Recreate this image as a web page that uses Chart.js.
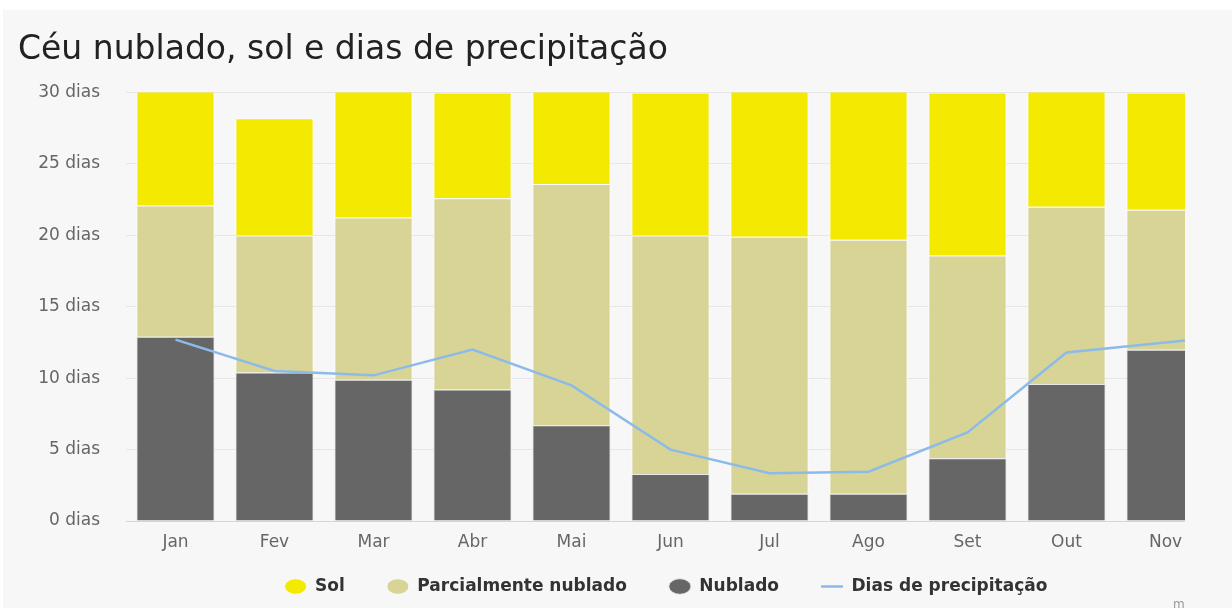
<!DOCTYPE html>
<html>
<head>
<meta charset="utf-8">
<script src="https://cdn.jsdelivr.net/npm/chart.js@4"></script>
<style>
	body { margin: 0; background: #ffffff; }
	#frame { position: absolute; left: 3px; top: 10px; width: 1229px; height: 598px; background: #f7f7f7; overflow: hidden; }
	#clip { position: absolute; left: 0; top: 0; width: 1182px; height: 598px; overflow: hidden; }
	#box { position: absolute; left: 0; top: 0; width: 1326px; height: 598px; }
	#credit { position: absolute; left: 1170px; top: 587px; font: 12px 'DejaVu Sans', sans-serif; color: #999; }
</style>
</head>
<body>
<div id="frame">
	<div id="clip">
		<div id="box"><canvas id="climateChart"></canvas></div>
		<span id="credit">meteoblue</span>
	</div>
</div>
<script>
var months = ["Jan", "Fev", "Mar", "Abr", "Mai", "Jun", "Jul", "Ago", "Set", "Out", "Nov", "Dez"];
var sunDays = [8.9, 8.2, 9.75, 7.4, 7.4, 10.0, 11.1, 11.3, 11.4, 9.0, 8.2, 8.7];
var partlyDays = [9.2, 9.6, 11.35, 13.4, 16.9, 16.7, 18.0, 17.8, 14.2, 12.4, 9.8, 9.8];
var overcastDays = [12.9, 10.4, 9.9, 9.2, 6.7, 3.3, 1.9, 1.9, 4.4, 9.6, 12.0, 12.5];
var precipDays = [12.7, 10.5, 10.2, 12.0, 9.5, 5.0, 3.35, 3.45, 6.2, 11.8, 12.5, 13.2];
var yTicks = [0, 5, 10, 15, 20, 25, 30];

var tickFont = { family: "'DejaVu Sans', sans-serif", size: 17 };
var barBorder = 'rgba(255,255,255,0.75)';

// legend block is pulled up a bit so the wide item padding doesn't push it down
var legendNudge = {
	id: 'legendNudge',
	afterLayout: function (chart) {
		var lg = chart.legend;
		if (!lg) return;
		lg.top = 526;
		lg.bottom = chart.height;
		lg.height = lg.bottom - lg.top;
	}
};

var ctx = document.getElementById("climateChart").getContext('2d');

var chart = new Chart(ctx, {
	type: 'bar',
	plugins: [legendNudge],
	data: {
		labels: months,
		datasets: [{
			label: "Sol",
			data: sunDays,
			backgroundColor: '#f4e900',
			borderColor: barBorder,
			borderWidth: 1,
			order: 3
		}, {
			label: "Parcialmente nublado",
			data: partlyDays,
			backgroundColor: '#d7d496',
			borderColor: barBorder,
			borderWidth: 1,
			order: 2
		}, {
			label: "Nublado",
			data: overcastDays,
			backgroundColor: '#666666',
			borderColor: 'rgba(230,230,230,0.9)',
			borderWidth: 1,
			order: 1
		}, {
			type: 'line',
			label: "Dias de precipitação",
			data: precipDays,
			borderColor: '#8dbbe9',
			backgroundColor: '#8dbbe9',
			borderWidth: 2.5,
			pointRadius: 0,
			pointStyle: 'line',
			tension: 0,
			order: 0
		}]
	},
	options: {
		responsive: true,
		maintainAspectRatio: false,
		animation: false,
		layout: {
			padding: { left: 15, right: 15, top: 0, bottom: 0 }
		},
		datasets: {
			bar: { barPercentage: 0.79, categoryPercentage: 1, clip: 0 }
		},
		scales: {
			x: {
				stacked: true,
				afterFit: function (scale) { scale.height = 32; },
				grid: { display: false, drawTicks: false },
				border: { display: true, color: '#ccd6eb', width: 1 },
				ticks: { color: '#666666', font: tickFont, padding: 11, maxRotation: 0 }
			},
			y: {
				stacked: true,
				min: 0,
				max: 30,
				afterFit: function (scale) { scale.width = 108; },
				afterBuildTicks: function (scale) {
					scale.ticks = yTicks.map(function (v) { return { value: v }; });
				},
				grid: { color: '#e6e6e6', drawTicks: false },
				border: { display: false },
				ticks: {
					color: '#666666',
					font: tickFont,
					padding: 26,
					callback: function (value) { return value + ' dias'; }
				}
			}
		},
		plugins: {
			title: {
				display: true,
				text: "Céu nublado, sol e dias de precipitação",
				align: 'start',
				color: '#222222',
				font: { family: "'DejaVu Sans', sans-serif", size: 33, weight: 'normal' },
				padding: { top: 21, bottom: 22 }
			},
			legend: {
				position: 'bottom',
				labels: {
					usePointStyle: true,
					pointStyleWidth: 22,
					boxHeight: 11,
					padding: 42,
					color: '#333333',
					font: { family: "'DejaVu Sans', sans-serif", size: 17, weight: 'bold' },
					sort: function (a, b) { return a.datasetIndex - b.datasetIndex; }
				}
			},
			tooltip: { enabled: false }
		}
	}
});

var legendFit = chart.legend.fit;
chart.legend.fit = function () {
	legendFit.call(this);
	this.height = 55;
};
chart.update();
</script>
</body>
</html>
